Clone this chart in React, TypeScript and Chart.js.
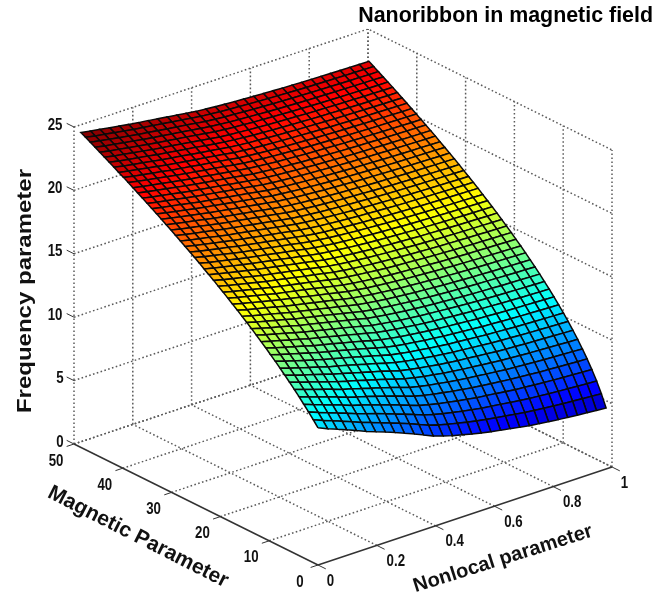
import React, { useEffect, useRef } from "react";
import { Chart, registerables } from "chart.js";
Chart.register(...registerables);

const TITLE = "Nanoribbon in magnetic field";
const nonlocalTicks = [0, 0.2, 0.4, 0.6, 0.8, 1];
const magneticTicks = [0, 10, 20, 30, 40, 50];
const frequencyTicks = [0, 5, 10, 15, 20, 25];
const nonlocal = [0, 0.033, 0.065, 0.098, 0.131, 0.163, 0.196, 0.229, 0.261, 0.294, 0.327, 0.359, 0.392, 0.425, 0.457, 0.49, 0.523, 0.555, 0.588, 0.621, 0.653, 0.686, 0.719, 0.751, 0.784, 0.817, 0.849, 0.882, 0.915, 0.947, 0.98];
const magnetic = [0, 0.97, 1.94, 2.92, 3.89, 4.86, 5.83, 6.8, 7.78, 8.75, 9.72, 10.69, 11.66, 12.64, 13.61, 14.58, 15.55, 16.52, 17.5, 18.47, 19.44, 20.41, 21.38, 22.36, 23.33, 24.3, 25.27, 26.24, 27.22, 28.19, 29.16, 30.13, 31.1, 32.08, 33.05, 34.02, 34.99, 35.96, 36.94, 37.91, 38.88, 39.85, 40.82, 41.8, 42.77, 43.74, 44.71, 45.68, 46.66, 47.63, 48.6];
const frequency = [
  [10.82,10.49,10.2,9.9,9.59,9.27,9,8.72,8.43,8.12,7.81,7.48,7.14,6.89,6.67,6.48,6.28,6.12,5.96,5.83,5.7,5.57,5.43,5.34,5.24,5.15,5.07,5,4.93,4.86,4.8],
  [11.27,10.95,10.68,10.39,10.1,9.8,9.54,9.27,9,8.72,8.43,8.12,7.81,7.58,7.38,7.21,7.04,6.89,6.75,6.63,6.52,6.4,6.28,6.2,6.12,6.04,5.97,5.92,5.86,5.8,5.74],
  [11.7,11.4,11.14,10.86,10.58,10.3,10.05,9.8,9.54,9.27,9,8.72,8.43,8.22,8.03,7.87,7.71,7.58,7.45,7.35,7.25,7.14,7.04,6.96,6.89,6.82,6.76,6.71,6.66,6.6,6.56],
  [12.12,11.83,11.58,11.31,11.05,10.77,10.54,10.3,10.05,9.8,9.54,9.27,9,8.8,8.63,8.49,8.34,8.22,8.09,8,7.91,7.81,7.71,7.65,7.58,7.52,7.46,7.42,7.37,7.32,7.28],
  [12.53,12.25,12,11.75,11.49,11.22,11,10.77,10.54,10.3,10.05,9.8,9.54,9.35,9.19,9.06,8.92,8.8,8.69,8.6,8.51,8.43,8.34,8.28,8.22,8.15,8.11,8.06,8.02,7.97,7.94],
  [12.92,12.65,12.41,12.17,11.92,11.66,11.45,11.22,11,10.77,10.54,10.3,10.05,9.87,9.72,9.59,9.46,9.35,9.25,9.17,9.08,9,8.92,8.86,8.8,8.75,8.7,8.66,8.62,8.58,8.54],
  [13.3,13.04,12.81,12.57,12.33,12.08,11.87,11.66,11.45,11.22,11,10.77,10.54,10.37,10.22,10.1,9.97,9.87,9.77,9.7,9.62,9.54,9.46,9.41,9.35,9.3,9.26,9.22,9.18,9.14,9.11],
  [13.67,13.42,13.19,12.96,12.73,12.49,12.29,12.08,11.87,11.66,11.45,11.22,11,10.84,10.7,10.58,10.46,10.37,10.27,10.2,10.12,10.05,9.97,9.92,9.87,9.82,9.78,9.75,9.71,9.67,9.64],
  [14.04,13.78,13.56,13.34,13.11,12.88,12.69,12.49,12.29,12.08,11.87,11.66,11.45,11.29,11.16,11.05,10.93,10.84,10.75,10.68,10.61,10.54,10.46,10.42,10.37,10.32,10.28,10.25,10.21,10.18,10.15],
  [14.39,14.14,13.93,13.71,13.49,13.27,13.08,12.88,12.69,12.49,12.29,12.08,11.87,11.73,11.6,11.49,11.38,11.29,11.2,11.14,11.07,11,10.93,10.89,10.84,10.79,10.76,10.72,10.69,10.66,10.63],
  [14.73,14.49,14.28,14.07,13.86,13.64,13.45,13.27,13.08,12.88,12.69,12.49,12.29,12.14,12.02,11.92,11.81,11.73,11.64,11.58,11.51,11.45,11.38,11.34,11.29,11.25,11.21,11.18,11.15,11.12,11.09],
  [15.07,14.83,14.63,14.42,14.21,14,13.82,13.64,13.45,13.27,13.08,12.88,12.69,12.55,12.43,12.33,12.23,12.15,12.07,12,11.94,11.87,11.81,11.77,11.72,11.68,11.65,11.62,11.59,11.56,11.53],
  [15.39,15.17,14.97,14.76,14.56,14.35,14.18,14,13.82,13.64,13.45,13.27,13.08,12.95,12.83,12.73,12.63,12.55,12.47,12.41,12.35,12.29,12.23,12.19,12.15,12.11,12.07,12.04,12.01,11.98,11.96],
  [15.72,15.49,15.3,15.1,14.9,14.7,14.53,14.35,14.18,14,13.82,13.64,13.45,13.32,13.21,13.11,13.02,12.94,12.87,12.81,12.75,12.69,12.63,12.59,12.55,12.51,12.48,12.45,12.42,12.39,12.37],
  [16.03,15.81,15.62,15.43,15.23,15.03,14.87,14.7,14.53,14.35,14.18,14,13.82,13.69,13.58,13.49,13.4,13.32,13.25,13.19,13.13,13.08,13.02,12.98,12.94,12.91,12.87,12.85,12.82,12.79,12.77],
  [16.34,16.12,15.94,15.75,15.56,15.36,15.2,15.03,14.87,14.7,14.53,14.35,14.18,14.05,13.95,13.86,13.77,13.69,13.62,13.56,13.51,13.45,13.4,13.36,13.32,13.29,13.26,13.23,13.2,13.18,13.15],
  [16.64,16.43,16.25,16.06,15.87,15.68,15.52,15.36,15.2,15.03,14.87,14.7,14.53,14.41,14.3,14.21,14.13,14.05,13.98,13.93,13.87,13.82,13.77,13.73,13.69,13.66,13.62,13.6,13.57,13.55,13.53],
  [16.94,16.73,16.55,16.37,16.19,16,15.84,15.68,15.52,15.36,15.2,15.03,14.87,14.75,14.65,14.56,14.48,14.41,14.34,14.28,14.23,14.18,14.13,14.09,14.05,14.02,13.99,13.96,13.94,13.91,13.89],
  [17.23,17.03,16.85,16.67,16.49,16.31,16.16,16,15.84,15.68,15.52,15.36,15.2,15.08,14.98,14.9,14.82,14.75,14.68,14.63,14.58,14.53,14.48,14.44,14.41,14.37,14.34,14.32,14.29,14.27,14.25],
  [17.52,17.32,17.15,16.97,16.79,16.61,16.46,16.31,16.16,16,15.84,15.68,15.52,15.41,15.31,15.23,15.15,15.08,15.02,14.97,14.92,14.87,14.82,14.78,14.75,14.71,14.69,14.66,14.64,14.61,14.59],
  [17.8,17.61,17.44,17.26,17.09,16.91,16.76,16.61,16.46,16.31,16.16,16,15.84,15.73,15.64,15.56,15.48,15.41,15.35,15.3,15.25,15.2,15.15,15.12,15.08,15.05,15.02,15,14.97,14.95,14.93],
  [18.08,17.89,17.72,17.55,17.38,17.2,17.06,16.91,16.76,16.61,16.46,16.31,16.16,16.05,15.95,15.87,15.8,15.73,15.67,15.62,15.57,15.52,15.48,15.44,15.41,15.38,15.35,15.33,15.3,15.28,15.26],
  [18.36,18.17,18,17.83,17.66,17.49,17.35,17.2,17.06,16.91,16.76,16.61,16.46,16.35,16.26,16.19,16.11,16.05,15.99,15.94,15.89,15.84,15.8,15.76,15.73,15.7,15.67,15.65,15.63,15.61,15.59],
  [18.63,18.44,18.28,18.11,17.94,17.78,17.64,17.49,17.35,17.2,17.06,16.91,16.76,16.66,16.57,16.49,16.42,16.35,16.3,16.25,16.2,16.16,16.11,16.08,16.05,16.02,15.99,15.97,15.95,15.92,15.91],
  [18.89,18.71,18.55,18.38,18.22,18.06,17.92,17.78,17.64,17.49,17.35,17.2,17.06,16.96,16.87,16.79,16.72,16.66,16.6,16.55,16.51,16.46,16.42,16.39,16.35,16.32,16.3,16.28,16.26,16.24,16.22],
  [19.16,18.97,18.81,18.65,18.49,18.33,18.19,18.06,17.92,17.78,17.64,17.49,17.35,17.25,17.16,17.09,17.02,16.96,16.91,16.85,16.81,16.76,16.72,16.69,16.66,16.63,16.6,16.58,16.56,16.54,16.52],
  [19.42,19.24,19.08,18.92,18.76,18.6,18.47,18.33,18.19,18.06,17.92,17.78,17.64,17.54,17.45,17.38,17.31,17.25,17.2,17.15,17.1,17.06,17.02,16.99,16.96,16.93,16.9,16.88,16.86,16.84,16.82],
  [19.67,19.49,19.34,19.18,19.03,18.87,18.73,18.6,18.47,18.33,18.19,18.06,17.92,17.82,17.73,17.66,17.59,17.54,17.48,17.44,17.39,17.35,17.31,17.28,17.25,17.22,17.2,17.18,17.16,17.14,17.12],
  [19.92,19.75,19.6,19.44,19.29,19.13,19,18.87,18.73,18.6,18.47,18.33,18.19,18.1,18.01,17.94,17.88,17.82,17.76,17.72,17.68,17.64,17.59,17.56,17.54,17.51,17.49,17.46,17.44,17.42,17.41],
  [20.17,20,19.85,19.7,19.54,19.39,19.26,19.13,19,18.87,18.73,18.6,18.47,18.37,18.29,18.22,18.15,18.1,18.04,18,17.96,17.92,17.88,17.85,17.82,17.79,17.77,17.75,17.73,17.71,17.69],
  [20.42,20.25,20.1,19.95,19.8,19.65,19.52,19.39,19.26,19.13,19,18.87,18.73,18.64,18.56,18.49,18.43,18.37,18.32,18.28,18.23,18.19,18.15,18.12,18.1,18.07,18.05,18.03,18.01,17.99,17.97],
  [20.66,20.49,20.35,20.2,20.05,19.9,19.77,19.65,19.52,19.39,19.26,19.13,19,18.91,18.83,18.76,18.7,18.64,18.59,18.55,18.51,18.47,18.43,18.4,18.37,18.34,18.32,18.3,18.28,18.26,18.25],
  [20.9,20.74,20.59,20.45,20.3,20.15,20.02,19.9,19.77,19.65,19.52,19.39,19.26,19.17,19.09,19.03,18.97,18.91,18.86,18.82,18.78,18.73,18.7,18.67,18.64,18.61,18.59,18.57,18.55,18.54,18.52],
  [21.14,20.98,20.83,20.69,20.54,20.4,20.27,20.15,20.02,19.9,19.77,19.65,19.52,19.43,19.35,19.29,19.23,19.17,19.13,19.08,19.04,19,18.97,18.94,18.91,18.88,18.86,18.84,18.82,18.8,18.79],
  [21.38,21.21,21.07,20.93,20.78,20.64,20.52,20.4,20.27,20.15,20.02,19.9,19.77,19.69,19.61,19.54,19.49,19.43,19.38,19.34,19.3,19.26,19.23,19.2,19.17,19.14,19.12,19.1,19.09,19.07,19.05],
  [21.61,21.45,21.31,21.17,21.02,20.88,20.76,20.64,20.52,20.4,20.27,20.15,20.02,19.94,19.86,19.8,19.74,19.69,19.64,19.6,19.56,19.52,19.49,19.46,19.43,19.4,19.38,19.36,19.35,19.33,19.31],
  [21.84,21.68,21.54,21.4,21.26,21.12,21,20.88,20.76,20.64,20.52,20.4,20.27,20.19,20.11,20.05,19.99,19.94,19.9,19.85,19.81,19.77,19.74,19.71,19.69,19.66,19.64,19.62,19.6,19.58,19.57],
  [22.07,21.91,21.77,21.63,21.49,21.35,21.24,21.12,21,20.88,20.76,20.64,20.52,20.43,20.36,20.3,20.24,20.19,20.14,20.1,20.06,20.02,19.99,19.96,19.94,19.91,19.89,19.87,19.85,19.84,19.82],
  [22.29,22.14,22,21.86,21.73,21.59,21.47,21.35,21.24,21.12,21,20.88,20.76,20.68,20.6,20.54,20.49,20.43,20.39,20.35,20.31,20.27,20.24,20.21,20.19,20.16,20.14,20.12,20.1,20.09,20.07],
  [22.52,22.36,22.23,22.09,21.95,21.82,21.7,21.59,21.47,21.35,21.24,21.12,21,20.92,20.85,20.78,20.73,20.68,20.63,20.59,20.56,20.52,20.48,20.46,20.43,20.41,20.39,20.37,20.35,20.33,20.32],
  [22.74,22.58,22.45,22.32,22.18,22.05,21.93,21.82,21.7,21.59,21.47,21.35,21.24,21.16,21.09,21.02,20.97,20.92,20.87,20.83,20.8,20.76,20.73,20.7,20.68,20.65,20.63,20.62,20.6,20.58,20.57],
  [22.96,22.8,22.67,22.54,22.41,22.27,22.16,22.05,21.93,21.82,21.7,21.59,21.47,21.39,21.32,21.26,21.2,21.15,21.11,21.07,21.03,21,20.96,20.94,20.92,20.89,20.87,20.86,20.84,20.82,20.81],
  [23.17,23.02,22.89,22.76,22.63,22.5,22.38,22.27,22.16,22.05,21.93,21.82,21.7,21.62,21.55,21.49,21.44,21.39,21.35,21.31,21.27,21.24,21.2,21.18,21.15,21.13,21.11,21.1,21.08,21.06,21.05],
  [23.39,23.24,23.11,22.98,22.85,22.72,22.61,22.5,22.38,22.27,22.16,22.05,21.93,21.85,21.78,21.73,21.67,21.62,21.58,21.54,21.51,21.47,21.44,21.41,21.39,21.37,21.35,21.33,21.31,21.3,21.28],
  [23.6,23.45,23.32,23.19,23.07,22.94,22.83,22.72,22.61,22.5,22.38,22.27,22.16,22.08,22.01,21.95,21.9,21.85,21.81,21.77,21.74,21.7,21.67,21.65,21.62,21.6,21.58,21.56,21.55,21.53,21.52],
  [23.81,23.66,23.54,23.41,23.28,23.15,23.04,22.94,22.83,22.72,22.61,22.49,22.38,22.3,22.24,22.18,22.13,22.08,22.04,22,21.97,21.93,21.9,21.88,21.85,21.83,21.81,21.79,21.78,21.76,21.75],
  [24.02,23.87,23.75,23.62,23.49,23.37,23.26,23.15,23.04,22.94,22.83,22.72,22.61,22.53,22.46,22.41,22.35,22.31,22.27,22.23,22.19,22.16,22.13,22.1,22.08,22.06,22.04,22.02,22,21.99,21.98],
  [24.23,24.08,23.96,23.83,23.71,23.58,23.47,23.37,23.26,23.15,23.04,22.94,22.83,22.75,22.68,22.63,22.58,22.53,22.49,22.45,22.42,22.38,22.35,22.33,22.31,22.29,22.27,22.25,22.23,22.22,22.2],
  [24.43,24.29,24.17,24.04,23.92,23.79,23.69,23.58,23.47,23.37,23.26,23.15,23.04,22.97,22.9,22.85,22.8,22.75,22.71,22.67,22.64,22.61,22.58,22.55,22.53,22.51,22.49,22.47,22.46,22.44,22.43],
  [24.64,24.49,24.37,24.25,24.12,24,23.9,23.79,23.69,23.58,23.47,23.37,23.26,23.19,23.12,23.07,23.02,22.97,22.93,22.89,22.86,22.83,22.8,22.77,22.75,22.73,22.71,22.69,22.68,22.66,22.65],
  [24.84,24.7,24.58,24.45,24.33,24.21,24.1,24,23.9,23.79,23.69,23.58,23.47,23.4,23.34,23.28,23.23,23.19,23.15,23.11,23.08,23.04,23.02,22.99,22.97,22.95,22.93,22.91,22.9,22.88,22.87],
];

const TITLE_H = 28.68;
const COLOR_MIN = 3.5;
const COLOR_MAX = 24.84;
const project = (n: number, m: number, z: number) => ({
  x: 318 + 294 * n - 4.88 * m,
  y: 565 - 98 * n - 2.42 * m - 12.68 * z,
});

function jet(t: number) {
  const c = (v: number) => Math.round(255 * Math.max(0, Math.min(1, v)));
  const r = 1.5 - Math.abs(4 * t - 3);
  const g = 1.5 - Math.abs(4 * t - 2);
  const b = 1.5 - Math.abs(4 * t - 1);
  return `rgb(${c(r)},${c(g)},${c(b)})`;
}

function buildDatasets() {
  const ds: any[] = [];
  for (let i = 0; i < magnetic.length - 1; i++) {
    for (let j = 0; j < nonlocal.length - 1; j++) {
      const corners = [
        [j, i],
        [j + 1, i],
        [j + 1, i + 1],
        [j, i + 1],
        [j, i],
      ];
      const pts = corners.map(([a, b]) => project(nonlocal[a], magnetic[b], frequency[b][a]));
      const mean = (frequency[i][j] + frequency[i][j + 1] + frequency[i + 1][j] + frequency[i + 1][j + 1]) / 4;
      ds.push({
        data: pts,
        fill: "shape",
        backgroundColor: jet((mean - COLOR_MIN) / (COLOR_MAX - COLOR_MIN)),
        borderColor: "#0a0a0a",
        borderWidth: 1.5,
        pointRadius: 0,
        tension: 0,
      });
    }
  }
  const solid = (pts: any[], w = 1.5) => ds.push({ data: pts, fill: false, borderColor: "#333", borderWidth: w, pointRadius: 0 });
  const dotted = (pts: any[]) =>
    ds.push({ data: pts, fill: false, borderColor: "#5a5a5a", borderWidth: 1.5, borderDash: [1.6, 2.4], pointRadius: 0 });

  const M1 = magneticTicks[magneticTicks.length - 1];
  const Z1 = frequencyTicks[frequencyTicks.length - 1];
  solid([project(0, 0, 0), project(0, M1, 0)]);
  solid([project(0, 0, 0), project(1, 0, 0)]);
  for (const m of magneticTicks) {
    solid([project(0, m, 0), project(-0.025, m, 0)], 1);
    if (m > 0) dotted([project(0, m, 0), project(1, m, 0)]);
    dotted([project(1, m, 0), project(1, m, Z1)]);
  }
  for (const n of nonlocalTicks) {
    solid([project(n, 0, 0), project(n, -1.6, 0)], 1);
    if (n > 0) dotted([project(n, 0, 0), project(n, M1, 0)]);
    dotted([project(n, M1, 0), project(n, M1, Z1)]);
  }
  for (const z of frequencyTicks) {
    solid([project(0, M1, z), project(0, M1 + 1.5, z)], 1);
    dotted([project(0, M1, z), project(1, M1, z), project(1, 0, z)]);
  }
  return ds;
}

const labelPlugin = {
  id: "axisText",
  afterDraw(chart: any) {
    const { ctx, scales } = chart;
    const sx = (v: number) => scales.x.getPixelForValue(v);
    const sy = (v: number) => scales.y.getPixelForValue(v);
    const drawText = (text: string, cx: number, cy: number, deg: number, font: string, sw: number, sh: number) => {
      ctx.save();
      ctx.translate(sx(cx), sy(cy));
      ctx.rotate((deg * Math.PI) / 180);
      ctx.scale(sw, sh);
      ctx.font = font;
      ctx.fillText(text, 0, 0);
      ctx.restore();
    };
    ctx.save();
    ctx.fillStyle = "#111";
    ctx.textAlign = "center";
    ctx.textBaseline = "middle";
    const tickFont = 'bold 17px "Liberation Sans"';
    for (const z of frequencyTicks) {
      const p = project(0, 50, z);
      drawText(String(z), p.x - (z < 10 ? 14 : 19), p.y - 2, 0, tickFont, 0.78, 1);
    }
    for (const m of magneticTicks) {
      const p = project(0, m, 0);
      drawText(String(m), p.x - 18, p.y + 17, 0, tickFont, 0.78, 1);
    }
    for (const n of nonlocalTicks) {
      const p = project(n, 0, 0);
      const end = n === 0 || n === 1;
      drawText(String(n), p.x + (end ? 12.5 : 19), p.y + 16, 0, tickFont, 0.78, 1);
    }
    drawText("Magnetic Parameter", 138, 537, 27, 'bold 21px "Liberation Sans"', 1, 1);
    drawText("Nonlocal parameter", 503, 559, -17.5, 'bold 20px "Liberation Sans"', 1, 1);
    drawText("Frequency parameter", 25, 291, -90, 'bold 24px "Liberation Sans"', 1, 0.85);
    ctx.restore();
  },
};

export default function App() {
  const ref = useRef<HTMLCanvasElement>(null);
  useEffect(() => {
    const chart = new Chart(ref.current!, {
      type: "line",
      data: { datasets: buildDatasets() },
      plugins: [labelPlugin],
      options: {
        responsive: false,
        animation: false,
        events: [],
        layout: { padding: { left: 0, right: 14, top: 0, bottom: 0 } },
        plugins: {
          legend: { display: false },
          tooltip: { enabled: false },
          title: {
            display: true,
            text: TITLE,
            align: "end",
            color: "#000",
            font: { family: '"Liberation Sans"', size: 21.4, weight: "bold", lineHeight: 1.2 },
            padding: { top: 3, bottom: 0 },
          },
        },
        scales: {
          x: { type: "linear", display: false, min: 0, max: 653 },
          y: { type: "linear", display: false, min: TITLE_H, max: 602, reverse: true },
        },
      },
    } as any);
    return () => chart.destroy();
  }, []);
  return (
    <div style={{ position: "fixed", left: 0, top: 0, width: 667, height: 602, background: "#fff" }}>
      <canvas ref={ref} width={667} height={602} style={{ display: "block", filter: "blur(0.5px)" }} />
    </div>
  );
}
